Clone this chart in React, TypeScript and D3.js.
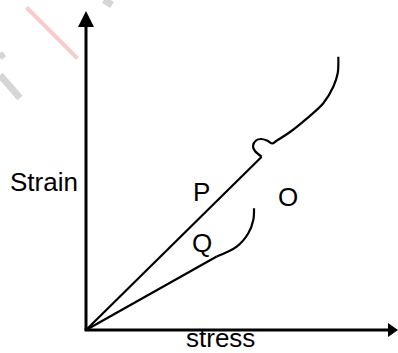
import React from "react";
import * as d3 from "d3";

const W = 398;
const H = 353;

// data in (stress, strain) units
const axisMax = { stress: 312, strain: 319 };
const pLine: [number, number][] = [[0, 0], [175.7, 173.3]];
const pCurve: [number, number][] = [
  [175.7, 173.3], [169, 179], [167, 184], [170, 189.5], [175, 191], [181, 189.5], [186, 186.5],
  [191, 189.5], [204, 198], [221, 211.7], [237.3, 226.7], [247.3, 243.3], [251.7, 256.7], [252.3, 273.3],
];
const qLine: [number, number][] = [[0, 0], [130.7, 73.5]];
const qCurve: [number, number][] = [
  [130.7, 73.5], [150.7, 83.3], [162.3, 96.7], [167.3, 110], [168, 121.7],
];
const labels = [
  { text: "Strain", x: 0, y: 0, dx: -76, dy: 139 },
  { text: "stress", x: 0, y: 0, dx: 100, dy: -17.3 },
  { text: "P", x: 0, y: 0, dx: 107, dy: 129 },
  { text: "Q", x: 0, y: 0, dx: 106, dy: 78 },
  { text: "O", x: 0, y: 0, dx: 192, dy: 124 },
];

export default function App() {
  const x = d3.scaleLinear().domain([0, axisMax.stress]).range([86, 398]);
  const y = d3.scaleLinear().domain([0, axisMax.strain]).range([330, 11]);
  const straight = d3.line<[number, number]>().x((d) => x(d[0])).y((d) => y(d[1]));
  const smooth = d3
    .line<[number, number]>()
    .x((d) => x(d[0]))
    .y((d) => y(d[1]))
    .curve(d3.curveCatmullRom.alpha(0.5));

  const x0 = x(0), y0 = y(0), xEnd = x(axisMax.stress), yEnd = y(axisMax.strain);

  return (
    <div style={{ position: "fixed", left: 0, top: 0 }}>
      <svg width={W} height={H} style={{ display: "block", background: "#fff" }}>
        {/* watermark fragments */}
        <line x1={26.5} y1={7.5} x2={77.5} y2={58.5} stroke="#f9cccc" strokeWidth={4} />
        <line x1={0} y1={75} x2={20} y2={98} stroke="#d6d6d6" strokeWidth={7} />
        <line x1={0} y1={53} x2={4} y2={58} stroke="#d6d6d6" strokeWidth={6} />
        <line x1={104} y1={0} x2={112} y2={5} stroke="#d6d6d6" strokeWidth={7} />

        {/* axes */}
        <line x1={x0} y1={y0} x2={x0} y2={yEnd + 12} stroke="#000" strokeWidth={3} />
        <line x1={x0 - 1.5} y1={y0} x2={xEnd - 8} y2={y0} stroke="#000" strokeWidth={3} />
        <polygon points={`${x0},${yEnd} ${x0 - 8},${yEnd + 16} ${x0 + 8},${yEnd + 16}`} fill="#000" />
        <polygon points={`${xEnd},${y0} ${xEnd - 10},${y0 - 7} ${xEnd - 10},${y0 + 7}`} fill="#000" />

        {/* curves */}
        <path d={straight(pLine) || ""} fill="none" stroke="#000" strokeWidth={2.2} />
        <path d={smooth(pCurve) || ""} fill="none" stroke="#000" strokeWidth={2.2} strokeLinejoin="round" />
        <path d={straight(qLine) || ""} fill="none" stroke="#000" strokeWidth={2.2} />
        <path d={smooth(qCurve) || ""} fill="none" stroke="#000" strokeWidth={2.2} />

        {labels.map((l) => (
          <text
            key={l.text}
            x={x(l.x) + l.dx}
            y={y(l.y) - l.dy}
            fontFamily="'Liberation Sans', Arial, sans-serif"
            fontSize={26}
            fill="#000"
          >
            {l.text}
          </text>
        ))}
      </svg>
    </div>
  );
}
